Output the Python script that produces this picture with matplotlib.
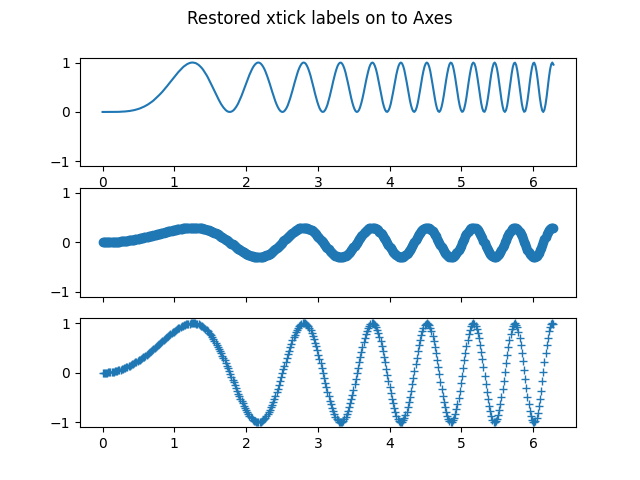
from __future__ import annotations

import matplotlib

matplotlib.use("Agg")
import matplotlib.pyplot as plt

TITLE = "Restored xtick labels on to Axes"

# sample positions along x (0 .. 2*pi, 400 samples)
x_values = [
    0.000, 0.016, 0.031, 0.047, 0.063, 0.079, 0.094, 0.110, 0.126, 0.142,
    0.157, 0.173, 0.189, 0.205, 0.220, 0.236, 0.252, 0.268, 0.283, 0.299,
    0.315, 0.331, 0.346, 0.362, 0.378, 0.394, 0.409, 0.425, 0.441, 0.457,
    0.472, 0.488, 0.504, 0.520, 0.535, 0.551, 0.567, 0.583, 0.598, 0.614,
    0.630, 0.646, 0.661, 0.677, 0.693, 0.709, 0.724, 0.740, 0.756, 0.772,
    0.787, 0.803, 0.819, 0.835, 0.850, 0.866, 0.882, 0.898, 0.913, 0.929,
    0.945, 0.961, 0.976, 0.992, 1.008, 1.024, 1.039, 1.055, 1.071, 1.087,
    1.102, 1.118, 1.134, 1.150, 1.165, 1.181, 1.197, 1.213, 1.228, 1.244,
    1.260, 1.276, 1.291, 1.307, 1.323, 1.339, 1.354, 1.370, 1.386, 1.402,
    1.417, 1.433, 1.449, 1.465, 1.480, 1.496, 1.512, 1.527, 1.543, 1.559,
    1.575, 1.590, 1.606, 1.622, 1.638, 1.653, 1.669, 1.685, 1.701, 1.716,
    1.732, 1.748, 1.764, 1.779, 1.795, 1.811, 1.827, 1.842, 1.858, 1.874,
    1.890, 1.905, 1.921, 1.937, 1.953, 1.968, 1.984, 2.000, 2.016, 2.031,
    2.047, 2.063, 2.079, 2.094, 2.110, 2.126, 2.142, 2.157, 2.173, 2.189,
    2.205, 2.220, 2.236, 2.252, 2.268, 2.283, 2.299, 2.315, 2.331, 2.346,
    2.362, 2.378, 2.394, 2.409, 2.425, 2.441, 2.457, 2.472, 2.488, 2.504,
    2.520, 2.535, 2.551, 2.567, 2.583, 2.598, 2.614, 2.630, 2.646, 2.661,
    2.677, 2.693, 2.709, 2.724, 2.740, 2.756, 2.772, 2.787, 2.803, 2.819,
    2.835, 2.850, 2.866, 2.882, 2.898, 2.913, 2.929, 2.945, 2.960, 2.976,
    2.992, 3.008, 3.023, 3.039, 3.055, 3.071, 3.086, 3.102, 3.118, 3.134,
    3.149, 3.165, 3.181, 3.197, 3.212, 3.228, 3.244, 3.260, 3.275, 3.291,
    3.307, 3.323, 3.338, 3.354, 3.370, 3.386, 3.401, 3.417, 3.433, 3.449,
    3.464, 3.480, 3.496, 3.512, 3.527, 3.543, 3.559, 3.575, 3.590, 3.606,
    3.622, 3.638, 3.653, 3.669, 3.685, 3.701, 3.716, 3.732, 3.748, 3.764,
    3.779, 3.795, 3.811, 3.827, 3.842, 3.858, 3.874, 3.890, 3.905, 3.921,
    3.937, 3.953, 3.968, 3.984, 4.000, 4.016, 4.031, 4.047, 4.063, 4.079,
    4.094, 4.110, 4.126, 4.142, 4.157, 4.173, 4.189, 4.205, 4.220, 4.236,
    4.252, 4.268, 4.283, 4.299, 4.315, 4.331, 4.346, 4.362, 4.378, 4.394,
    4.409, 4.425, 4.441, 4.456, 4.472, 4.488, 4.504, 4.519, 4.535, 4.551,
    4.567, 4.582, 4.598, 4.614, 4.630, 4.645, 4.661, 4.677, 4.693, 4.708,
    4.724, 4.740, 4.756, 4.771, 4.787, 4.803, 4.819, 4.834, 4.850, 4.866,
    4.882, 4.897, 4.913, 4.929, 4.945, 4.960, 4.976, 4.992, 5.008, 5.023,
    5.039, 5.055, 5.071, 5.086, 5.102, 5.118, 5.134, 5.149, 5.165, 5.181,
    5.197, 5.212, 5.228, 5.244, 5.260, 5.275, 5.291, 5.307, 5.323, 5.338,
    5.354, 5.370, 5.386, 5.401, 5.417, 5.433, 5.449, 5.464, 5.480, 5.496,
    5.512, 5.527, 5.543, 5.559, 5.575, 5.590, 5.606, 5.622, 5.638, 5.653,
    5.669, 5.685, 5.701, 5.716, 5.732, 5.748, 5.764, 5.779, 5.795, 5.811,
    5.827, 5.842, 5.858, 5.874, 5.890, 5.905, 5.921, 5.937, 5.952, 5.968,
    5.984, 6.000, 6.015, 6.031, 6.047, 6.063, 6.078, 6.094, 6.110, 6.126,
    6.141, 6.157, 6.173, 6.189, 6.204, 6.220, 6.236, 6.252, 6.267, 6.283,
]

# top panel: squared wave, drawn as a line
top_values = [
    0.000, 0.000, 0.000, 0.000, 0.000, 0.000, 0.000, 0.000, 0.000, 0.000,
    0.001, 0.001, 0.001, 0.002, 0.002, 0.003, 0.004, 0.005, 0.006, 0.008,
    0.010, 0.012, 0.014, 0.017, 0.020, 0.024, 0.028, 0.032, 0.037, 0.043,
    0.049, 0.056, 0.063, 0.071, 0.080, 0.089, 0.100, 0.111, 0.123, 0.135,
    0.149, 0.164, 0.180, 0.196, 0.213, 0.231, 0.251, 0.271, 0.293, 0.315,
    0.338, 0.361, 0.386, 0.411, 0.438, 0.465, 0.493, 0.520, 0.549, 0.578,
    0.607, 0.635, 0.664, 0.694, 0.723, 0.750, 0.778, 0.805, 0.830, 0.855,
    0.878, 0.901, 0.922, 0.939, 0.955, 0.970, 0.980, 0.990, 0.996, 1.000,
    1.000, 0.996, 0.991, 0.982, 0.968, 0.952, 0.932, 0.909, 0.883, 0.853,
    0.820, 0.785, 0.746, 0.705, 0.662, 0.617, 0.571, 0.523, 0.475, 0.426,
    0.378, 0.330, 0.284, 0.239, 0.197, 0.157, 0.121, 0.089, 0.061, 0.038,
    0.020, 0.007, 0.001, 0.001, 0.007, 0.019, 0.038, 0.063, 0.094, 0.131,
    0.173, 0.221, 0.273, 0.328, 0.387, 0.448, 0.510, 0.572, 0.634, 0.694,
    0.752, 0.805, 0.854, 0.897, 0.934, 0.963, 0.984, 0.997, 1.000, 0.994,
    0.978, 0.953, 0.919, 0.877, 0.826, 0.769, 0.706, 0.637, 0.566, 0.492,
    0.419, 0.346, 0.277, 0.212, 0.153, 0.102, 0.060, 0.029, 0.009, 0.000,
    0.004, 0.021, 0.050, 0.090, 0.142, 0.204, 0.273, 0.350, 0.431, 0.514,
    0.597, 0.679, 0.755, 0.825, 0.885, 0.934, 0.971, 0.993, 1.000, 0.992,
    0.968, 0.929, 0.876, 0.810, 0.734, 0.650, 0.560, 0.468, 0.376, 0.288,
    0.207, 0.136, 0.078, 0.035, 0.008, 0.000, 0.010, 0.039, 0.086, 0.148,
    0.225, 0.313, 0.409, 0.509, 0.609, 0.705, 0.793, 0.869, 0.930, 0.973,
    0.996, 0.998, 0.978, 0.936, 0.875, 0.797, 0.705, 0.603, 0.496, 0.389,
    0.286, 0.193, 0.114, 0.054, 0.015, 0.000, 0.010, 0.044, 0.102, 0.180,
    0.275, 0.382, 0.495, 0.610, 0.719, 0.817, 0.898, 0.957, 0.992, 0.999,
    0.979, 0.931, 0.859, 0.765, 0.656, 0.538, 0.416, 0.299, 0.194, 0.107,
    0.043, 0.007, 0.002, 0.027, 0.082, 0.164, 0.267, 0.386, 0.513, 0.639,
    0.757, 0.858, 0.936, 0.984, 1.000, 0.982, 0.930, 0.849, 0.743, 0.619,
    0.487, 0.355, 0.233, 0.129, 0.053, 0.009, 0.002, 0.031, 0.096, 0.192,
    0.311, 0.446, 0.585, 0.718, 0.834, 0.925, 0.981, 1.000, 0.978, 0.918,
    0.823, 0.701, 0.562, 0.417, 0.279, 0.160, 0.068, 0.014, 0.001, 0.031,
    0.103, 0.210, 0.343, 0.490, 0.639, 0.775, 0.887, 0.964, 0.999, 0.987,
    0.930, 0.832, 0.702, 0.553, 0.398, 0.253, 0.131, 0.045, 0.003, 0.010,
    0.066, 0.166, 0.299, 0.453, 0.613, 0.761, 0.883, 0.965, 0.999, 0.981,
    0.912, 0.799, 0.653, 0.491, 0.329, 0.185, 0.076, 0.012, 0.003, 0.049,
    0.146, 0.283, 0.445, 0.614, 0.770, 0.895, 0.975, 1.000, 0.966, 0.877,
    0.743, 0.579, 0.406, 0.243, 0.111, 0.027, 0.000, 0.035, 0.128, 0.268,
    0.437, 0.614, 0.778, 0.906, 0.983, 0.997, 0.947, 0.839, 0.685, 0.507,
    0.328, 0.170, 0.057, 0.003, 0.016, 0.096, 0.230, 0.403, 0.589, 0.763,
    0.901, 0.983, 0.997, 0.940, 0.820, 0.655, 0.466, 0.282, 0.129, 0.030,
    0.000, 0.044, 0.156, 0.320, 0.511, 0.700, 0.860, 0.966, 1.000, 0.957,
]

# middle panel: small-amplitude wave, drawn with circle markers
middle_values = [
    0.000, 0.000, 0.000, 0.001, 0.001, 0.002, 0.003, 0.004, 0.005, 0.006,
    0.007, 0.009, 0.011, 0.013, 0.015, 0.017, 0.019, 0.021, 0.024, 0.027,
    0.030, 0.033, 0.036, 0.039, 0.043, 0.046, 0.050, 0.054, 0.058, 0.062,
    0.066, 0.071, 0.075, 0.080, 0.085, 0.090, 0.095, 0.100, 0.105, 0.110,
    0.116, 0.121, 0.127, 0.133, 0.139, 0.144, 0.150, 0.156, 0.162, 0.168,
    0.174, 0.180, 0.186, 0.192, 0.199, 0.205, 0.211, 0.216, 0.222, 0.228,
    0.234, 0.239, 0.245, 0.250, 0.255, 0.260, 0.265, 0.269, 0.273, 0.277,
    0.281, 0.285, 0.288, 0.291, 0.293, 0.295, 0.297, 0.298, 0.299, 0.300,
    0.300, 0.299, 0.299, 0.297, 0.295, 0.293, 0.290, 0.286, 0.282, 0.277,
    0.272, 0.266, 0.259, 0.252, 0.244, 0.236, 0.227, 0.217, 0.207, 0.196,
    0.184, 0.172, 0.160, 0.147, 0.133, 0.119, 0.104, 0.089, 0.074, 0.058,
    0.042, 0.026, 0.009, -0.007, -0.024, -0.041, -0.058, -0.075, -0.092, -0.108,
    -0.125, -0.141, -0.157, -0.172, -0.187, -0.201, -0.214, -0.227, -0.239, -0.250,
    -0.260, -0.269, -0.277, -0.284, -0.290, -0.294, -0.298, -0.299, -0.300, -0.299,
    -0.297, -0.293, -0.288, -0.281, -0.273, -0.263, -0.252, -0.240, -0.226, -0.211,
    -0.194, -0.177, -0.158, -0.138, -0.117, -0.096, -0.074, -0.051, -0.028, -0.004,
    0.020, 0.043, 0.067, 0.090, 0.113, 0.135, 0.157, 0.177, 0.197, 0.215,
    0.232, 0.247, 0.261, 0.272, 0.282, 0.290, 0.296, 0.299, 0.300, 0.299,
    0.295, 0.289, 0.281, 0.270, 0.257, 0.242, 0.225, 0.205, 0.184, 0.161,
    0.137, 0.111, 0.084, 0.056, 0.028, -0.001, -0.030, -0.059, -0.088, -0.116,
    -0.142, -0.168, -0.192, -0.214, -0.234, -0.252, -0.267, -0.280, -0.289, -0.296,
    -0.299, -0.300, -0.297, -0.290, -0.281, -0.268, -0.252, -0.233, -0.211, -0.187,
    -0.160, -0.132, -0.101, -0.070, -0.037, -0.004, 0.030, 0.063, 0.096, 0.127,
    0.157, 0.185, 0.211, 0.234, 0.254, 0.271, 0.284, 0.293, 0.299, 0.300,
    0.297, 0.289, 0.278, 0.262, 0.243, 0.220, 0.194, 0.164, 0.132, 0.098,
    0.062, 0.025, -0.012, -0.049, -0.086, -0.121, -0.155, -0.186, -0.215, -0.240,
    -0.261, -0.278, -0.290, -0.298, -0.300, -0.297, -0.289, -0.276, -0.259, -0.236,
    -0.209, -0.179, -0.145, -0.108, -0.069, -0.029, 0.012, 0.053, 0.093, 0.131,
    0.167, 0.200, 0.229, 0.254, 0.274, 0.288, 0.297, 0.300, 0.297, 0.287,
    0.272, 0.251, 0.225, 0.194, 0.159, 0.120, 0.078, 0.035, -0.009, -0.053,
    -0.096, -0.137, -0.176, -0.210, -0.240, -0.264, -0.283, -0.295, -0.300, -0.298,
    -0.289, -0.274, -0.251, -0.223, -0.189, -0.151, -0.109, -0.064, -0.017, 0.030,
    0.077, 0.122, 0.164, 0.202, 0.235, 0.262, 0.282, 0.295, 0.300, 0.297,
    0.286, 0.268, 0.242, 0.210, 0.172, 0.129, 0.083, 0.033, -0.017, -0.067,
    -0.115, -0.160, -0.200, -0.235, -0.263, -0.284, -0.296, -0.300, -0.295, -0.281,
    -0.259, -0.228, -0.191, -0.148, -0.100, -0.049, 0.004, 0.056, 0.107, 0.155,
    0.198, 0.235, 0.265, 0.286, 0.297, 0.300, 0.292, 0.275, 0.248, 0.214,
    0.172, 0.124, 0.072, 0.017, -0.038, -0.093, -0.144, -0.190, -0.230, -0.262,
    -0.285, -0.297, -0.299, -0.291, -0.272, -0.243, -0.205, -0.159, -0.108, -0.052,
    0.005, 0.063, 0.119, 0.170, 0.214, 0.251, 0.278, 0.295, 0.300, 0.294,
]

# bottom panel: full-amplitude wave, drawn with plus markers
bottom_values = [
    0.00, 0.00, 0.00, 0.00, 0.00, 0.01, 0.01, 0.01, 0.02, 0.02,
    0.02, 0.03, 0.04, 0.04, 0.05, 0.06, 0.06, 0.07, 0.08, 0.09,
    0.10, 0.11, 0.12, 0.13, 0.14, 0.15, 0.17, 0.18, 0.19, 0.21,
    0.22, 0.24, 0.25, 0.27, 0.28, 0.30, 0.32, 0.33, 0.35, 0.37,
    0.39, 0.40, 0.42, 0.44, 0.46, 0.48, 0.50, 0.52, 0.54, 0.56,
    0.58, 0.60, 0.62, 0.64, 0.66, 0.68, 0.70, 0.72, 0.74, 0.76,
    0.78, 0.80, 0.82, 0.83, 0.85, 0.87, 0.88, 0.90, 0.91, 0.92,
    0.94, 0.95, 0.96, 0.97, 0.98, 0.98, 0.99, 0.99, 1.00, 1.00,
    1.00, 1.00, 1.00, 0.99, 0.98, 0.98, 0.97, 0.95, 0.94, 0.92,
    0.91, 0.89, 0.86, 0.84, 0.81, 0.79, 0.76, 0.72, 0.69, 0.65,
    0.61, 0.57, 0.53, 0.49, 0.44, 0.40, 0.35, 0.30, 0.25, 0.19,
    0.14, 0.09, 0.03, -0.02, -0.08, -0.14, -0.19, -0.25, -0.31, -0.36,
    -0.42, -0.47, -0.52, -0.57, -0.62, -0.67, -0.71, -0.76, -0.80, -0.83,
    -0.87, -0.90, -0.92, -0.95, -0.97, -0.98, -0.99, -1.00, -1.00, -1.00,
    -0.99, -0.98, -0.96, -0.94, -0.91, -0.88, -0.84, -0.80, -0.75, -0.70,
    -0.65, -0.59, -0.53, -0.46, -0.39, -0.32, -0.25, -0.17, -0.09, -0.01,
    0.07, 0.14, 0.22, 0.30, 0.38, 0.45, 0.52, 0.59, 0.66, 0.72,
    0.77, 0.82, 0.87, 0.91, 0.94, 0.97, 0.99, 1.00, 1.00, 1.00,
    0.98, 0.96, 0.94, 0.90, 0.86, 0.81, 0.75, 0.68, 0.61, 0.54,
    0.46, 0.37, 0.28, 0.19, 0.09, 0.00, -0.10, -0.20, -0.29, -0.39,
    -0.47, -0.56, -0.64, -0.71, -0.78, -0.84, -0.89, -0.93, -0.96, -0.99,
    -1.00, -1.00, -0.99, -0.97, -0.94, -0.89, -0.84, -0.78, -0.70, -0.62,
    -0.53, -0.44, -0.34, -0.23, -0.12, -0.01, 0.10, 0.21, 0.32, 0.42,
    0.52, 0.62, 0.70, 0.78, 0.85, 0.90, 0.95, 0.98, 1.00, 1.00,
    0.99, 0.96, 0.93, 0.87, 0.81, 0.73, 0.65, 0.55, 0.44, 0.33,
    0.21, 0.08, -0.04, -0.16, -0.29, -0.40, -0.52, -0.62, -0.72, -0.80,
    -0.87, -0.93, -0.97, -0.99, -1.00, -0.99, -0.96, -0.92, -0.86, -0.79,
    -0.70, -0.60, -0.48, -0.36, -0.23, -0.10, 0.04, 0.18, 0.31, 0.44,
    0.56, 0.67, 0.76, 0.85, 0.91, 0.96, 0.99, 1.00, 0.99, 0.96,
    0.91, 0.84, 0.75, 0.65, 0.53, 0.40, 0.26, 0.12, -0.03, -0.18,
    -0.32, -0.46, -0.59, -0.70, -0.80, -0.88, -0.94, -0.98, -1.00, -0.99,
    -0.96, -0.91, -0.84, -0.74, -0.63, -0.50, -0.36, -0.21, -0.06, 0.10,
    0.26, 0.41, 0.55, 0.67, 0.78, 0.87, 0.94, 0.98, 1.00, 0.99,
    0.95, 0.89, 0.81, 0.70, 0.57, 0.43, 0.28, 0.11, -0.06, -0.22,
    -0.38, -0.53, -0.67, -0.78, -0.88, -0.95, -0.99, -1.00, -0.98, -0.94,
    -0.86, -0.76, -0.64, -0.49, -0.33, -0.16, 0.01, 0.19, 0.36, 0.52,
    0.66, 0.78, 0.88, 0.95, 0.99, 1.00, 0.97, 0.92, 0.83, 0.71,
    0.57, 0.41, 0.24, 0.06, -0.13, -0.31, -0.48, -0.63, -0.77, -0.87,
    -0.95, -0.99, -1.00, -0.97, -0.91, -0.81, -0.68, -0.53, -0.36, -0.17,
    0.02, 0.21, 0.40, 0.57, 0.71, 0.84, 0.93, 0.98, 1.00, 0.98,
]


def build_figure() -> plt.Figure:
    fig, axes = plt.subplots(3, sharex=True, sharey=True, figsize=(6.4, 4.8), dpi=100)
    fig.suptitle(TITLE)

    axes[0].plot(x_values, top_values)
    axes[1].plot(x_values, middle_values, "o")
    axes[2].plot(x_values, bottom_values, "+")

    # sharex hides the inner labels; bring them back on the first Axes only
    axes[0].tick_params(labelbottom=True)
    return fig


def main() -> None:
    fig = build_figure()
    fig.savefig("out.png")
    plt.close(fig)


if __name__ == "__main__":
    main()
